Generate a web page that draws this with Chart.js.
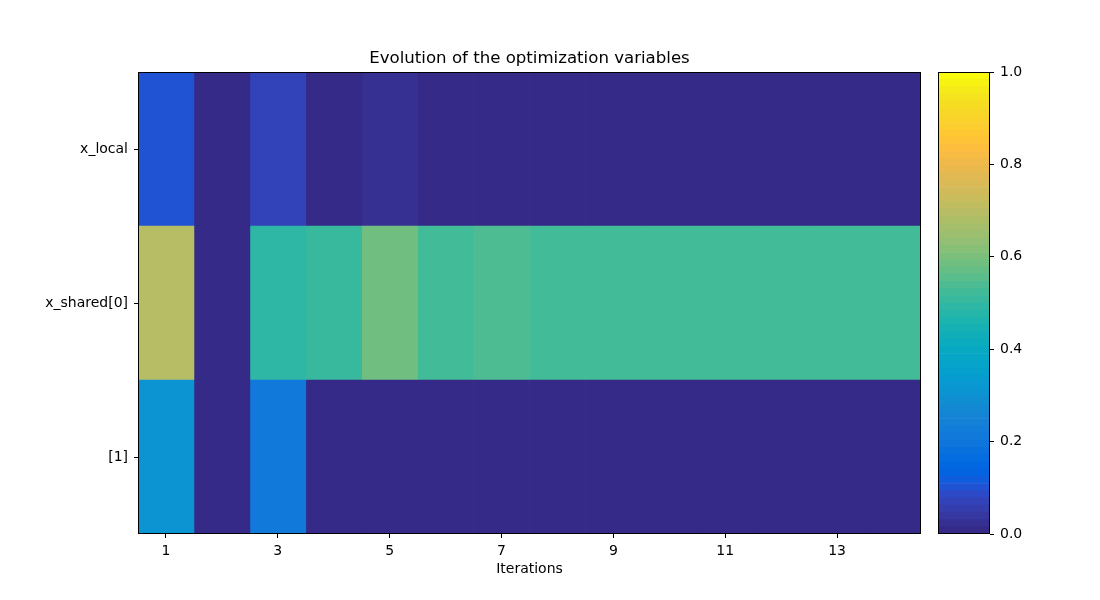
<!DOCTYPE html>
<html lang="en">
<head>
<meta charset="UTF-8">
<title>Evolution of the optimization variables</title>
<script src="https://cdn.jsdelivr.net/npm/chart.js"></script>
<style>
  html, body { margin: 0; padding: 0; background: #fff; }
  #wrap { position: relative; width: 1100px; height: 600px; }
  #main { position: absolute; left: 0; top: 0; }
  #cbar { position: absolute; left: 900px; top: 0; }
</style>
</head>
<body>
<div id="wrap">
  <canvas id="main" width="1100" height="600"></canvas>
  <canvas id="cbar" width="200" height="600"></canvas>
</div>
<script>
// data
const variables = ['x_local', 'x_shared[0]', '[1]']
const iterations = [1, 2, 3, 4, 5, 6, 7, 8, 9, 10, 11, 12, 13, 14]
const xLocal = [0.10, 0, 0.07, 0, 0.02, 0, 0, 0, 0, 0, 0, 0, 0, 0]
const xShared0 = [0.695, 0, 0.492, 0.508, 0.586, 0.523, 0.539, 0.523, 0.523, 0.523, 0.523, 0.523, 0.523, 0.523]
const xShared1 = [0.305, 0, 0.21, 0, 0, 0, 0, 0, 0, 0, 0, 0, 0, 0]
const xTicks = [1, 3, 5, 7, 9, 11, 13]
const cbarTicks = [0, 0.2, 0.4, 0.6, 0.8, 1.0]

// parula, 64 entries
const parula = [
  [0.2081,0.1663,0.5292],[0.2116,0.1898,0.5777],[0.2123,0.2138,0.6270],[0.2081,0.2386,0.6771],
  [0.1959,0.2645,0.7279],[0.1707,0.2919,0.7792],[0.1253,0.3242,0.8303],[0.0591,0.3598,0.8683],
  [0.0117,0.3875,0.8820],[0.0060,0.4086,0.8828],[0.0165,0.4266,0.8786],[0.0329,0.4430,0.8720],
  [0.0498,0.4586,0.8641],[0.0629,0.4737,0.8554],[0.0723,0.4887,0.8467],[0.0779,0.5040,0.8384],
  [0.0793,0.5200,0.8312],[0.0749,0.5375,0.8263],[0.0641,0.5570,0.8240],[0.0488,0.5772,0.8228],
  [0.0343,0.5966,0.8199],[0.0265,0.6137,0.8135],[0.0239,0.6287,0.8038],[0.0231,0.6418,0.7913],
  [0.0228,0.6535,0.7768],[0.0267,0.6642,0.7607],[0.0384,0.6743,0.7436],[0.0590,0.6838,0.7254],
  [0.0843,0.6928,0.7062],[0.1133,0.7015,0.6859],[0.1453,0.7098,0.6646],[0.1801,0.7177,0.6424],
  [0.2178,0.7250,0.6193],[0.2586,0.7317,0.5954],[0.3022,0.7376,0.5712],[0.3482,0.7424,0.5473],
  [0.3953,0.7459,0.5244],[0.4420,0.7481,0.5033],[0.4871,0.7491,0.4840],[0.5300,0.7491,0.4661],
  [0.5709,0.7485,0.4494],[0.6099,0.7473,0.4337],[0.6473,0.7456,0.4188],[0.6834,0.7435,0.4044],
  [0.7184,0.7411,0.3905],[0.7525,0.7384,0.3768],[0.7858,0.7356,0.3633],[0.8185,0.7327,0.3498],
  [0.8507,0.7299,0.3360],[0.8824,0.7274,0.3217],[0.9139,0.7258,0.3063],[0.9450,0.7261,0.2886],
  [0.9739,0.7314,0.2666],[0.9938,0.7455,0.2403],[0.9990,0.7653,0.2164],[0.9955,0.7861,0.1967],
  [0.9880,0.8066,0.1794],[0.9789,0.8271,0.1633],[0.9697,0.8481,0.1475],[0.9626,0.8705,0.1309],
  [0.9589,0.8949,0.1132],[0.9598,0.9218,0.0948],[0.9661,0.9514,0.0755],[0.9763,0.9831,0.0538]
]
const toCss = (c) => `rgb(${Math.round(c[0] * 255)},${Math.round(c[1] * 255)},${Math.round(c[2] * 255)})`
const colorFor = (v) => toCss(parula[Math.min(parula.length - 1, Math.floor(v * parula.length))])

Chart.defaults.font.family = '"DejaVu Sans", sans-serif'
Chart.defaults.font.size = 14
Chart.defaults.color = '#000'
Chart.defaults.animation = false

const rows = [xLocal, xShared0, xShared1]

// frame round the plot area (matplotlib spines)
const frame = {
  id: 'frame',
  afterDraw(chart) {
    const { ctx, chartArea: a } = chart
    ctx.save()
    ctx.strokeStyle = '#000'
    ctx.lineWidth = 1
    ctx.strokeRect(Math.round(a.left) + 0.5, Math.round(a.top) + 0.5,
      Math.round(a.right - a.left) - 1, Math.round(a.bottom - a.top) - 1)
    ctx.restore()
  },
}

// one dataset per iteration, one floating bar per variable
const datasets = iterations.map((it, j) => ({
  data: variables.map(() => [it - 0.5, it + 0.5]),
  backgroundColor: rows.map((r) => colorFor(r[j])),
  borderWidth: 0,
  barPercentage: 1,
  categoryPercentage: 1,
  grouped: false,
}))

new Chart(document.getElementById('main'), {
  type: 'bar',
  data: { labels: variables, datasets },
  plugins: [frame],
  options: {
    responsive: false,
    indexAxis: 'y',
    layout: { padding: { left: 0, right: 179, top: 0, bottom: 0 } },
    plugins: {
      legend: { display: false },
      tooltip: { enabled: false },
    },
    scales: {
      x: {
        type: 'linear',
        min: 0.5,
        max: 14.5,
        afterBuildTicks: (s) => { s.ticks = xTicks.map((v) => ({ value: v })) },
        afterFit: (s) => { s.height = 66 },
        ticks: { padding: 5, maxRotation: 0, autoSkip: false },
        grid: { drawOnChartArea: false, tickLength: 4, color: '#000' },
        border: { display: false },
        title: { display: true, text: 'Iterations', font: { size: 14 }, padding: { top: 0, bottom: 22 } },
      },
      // top axis only carries the title, centred over the plot area
      top: {
        type: 'linear',
        position: 'top',
        min: 0.5,
        max: 14.5,
        afterFit: (s) => { s.height = 72 },
        ticks: { display: false },
        grid: { display: false },
        border: { display: false },
        title: {
          display: true,
          text: 'Evolution of the optimization variables',
          font: { size: 16.6 },
          padding: { top: 48.5, bottom: 0 },
        },
      },
      y: {
        afterFit: (s) => { s.width = 138 },
        ticks: { padding: 6 },
        grid: { drawOnChartArea: false, offset: false, tickLength: 4, color: '#000' },
        border: { display: false },
      },
    },
  },
})

// colorbar: stacked bars, one per colormap entry
const step = 1 / parula.length
new Chart(document.getElementById('cbar'), {
  type: 'bar',
  data: {
    labels: [''],
    datasets: parula.map((c) => ({
      data: [step],
      backgroundColor: toCss(c),
      borderColor: toCss(c),
      borderWidth: 0,
      barPercentage: 1,
      categoryPercentage: 1,
    })),
  },
  plugins: [frame],
  options: {
    responsive: false,
    layout: { padding: { left: 38, right: 0, top: 72, bottom: 66 } },
    plugins: { legend: { display: false }, tooltip: { enabled: false } },
    scales: {
      x: { display: false, stacked: true },
      y: {
        stacked: true,
        position: 'right',
        min: 0,
        max: 1,
        afterBuildTicks: (s) => { s.ticks = cbarTicks.map((v) => ({ value: v })) },
        afterFit: (s) => { s.width = 110 },
        ticks: { padding: 6, callback: (v) => Number(v).toFixed(1) },
        grid: { drawOnChartArea: false, tickLength: 4, color: '#000' },
        border: { display: false },
      },
    },
  },
})
</script>
</body>
</html>
